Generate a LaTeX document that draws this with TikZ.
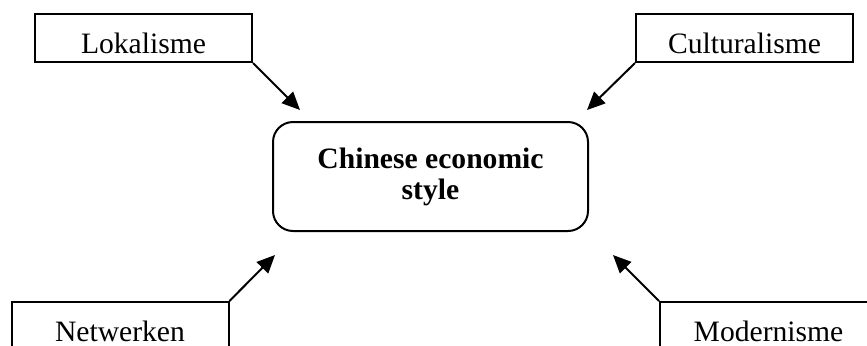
\documentclass[tikz,border=0pt]{standalone}
\usepackage{fontspec}
\setmainfont{Liberation Serif}
\usetikzlibrary{arrows.meta}
\begin{document}
\begin{tikzpicture}[x=0.5pt,y=-0.5pt,
  every node/.style={font=\fontsize{14.8}{15.5}\selectfont},
  factor/.style={draw, line width=1pt, rectangle, inner sep=0pt,
    minimum width=108.5pt, minimum height=24pt,
    text height=15pt, text depth=0pt},
  core/.style={draw, line width=1pt, rounded corners=10pt, inner sep=0pt,
    minimum width=157.5pt, minimum height=54.5pt, align=center,
    font=\fontsize{14.8}{15.5}\selectfont\bfseries},
  influence/.style={line width=1pt, -{Triangle[length=9pt,width=8pt]}}]
\useasboundingbox (0,0) rectangle (867,345);
\clip (0,0) rectangle (867,345);

% central concept
\node[core] (core) at (430.5,176.5) {Chinese economic\\style};

% contributing perspectives
\node[factor] (lok) at (143.5,38)  {Lokalisme};
\node[factor] (cul) at (744.5,38)  {Culturalisme};
\node[factor] (net) at (120,326)   {Netwerken};
\node[factor] (mod) at (768.5,326) {Modernisme};

% arrow tips just outside the central box
\coordinate (tipLok) at (300,110);
\coordinate (tipCul) at (587,110);
\coordinate (tipNet) at (275,255);
\coordinate (tipMod) at (613,255);

\draw[influence] (lok.south east) -- (tipLok);
\draw[influence] (cul.south west) -- (tipCul);
\draw[influence] (net.north east) -- (tipNet);
\draw[influence] (mod.north west) -- (tipMod);
\end{tikzpicture}
\end{document}
